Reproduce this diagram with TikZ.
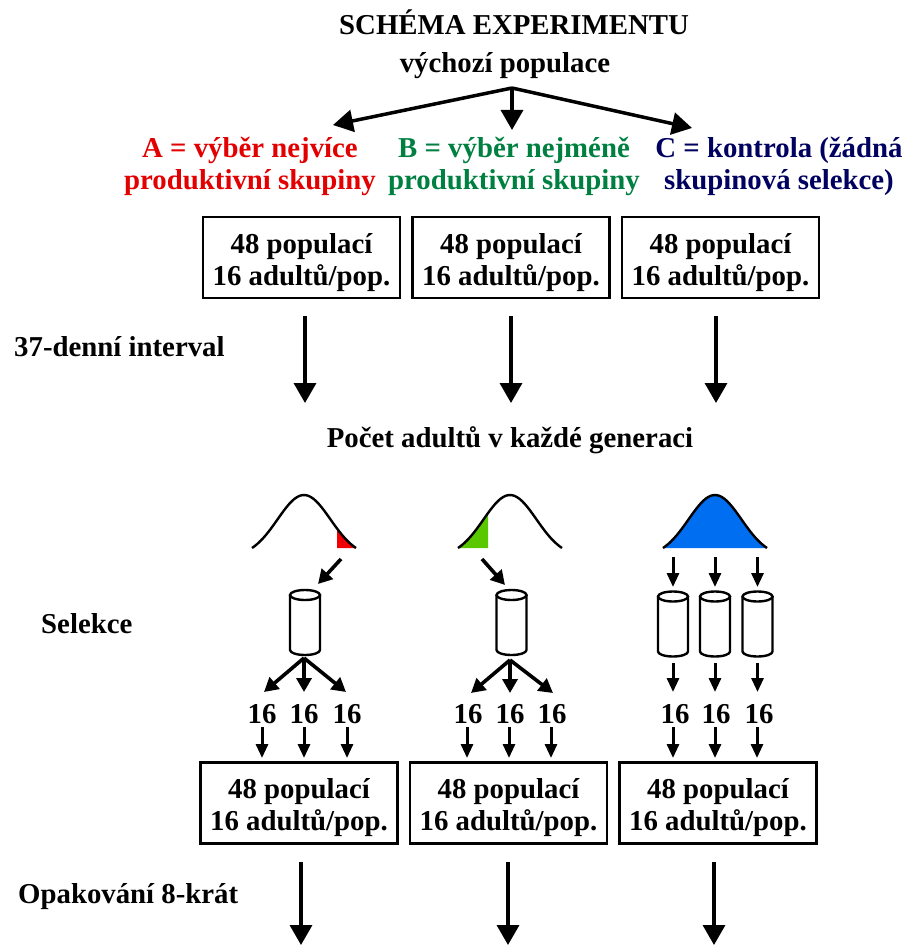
\documentclass[tikz,border=0pt]{standalone}
\usepackage{fontspec}
\setmainfont{Liberation Serif}
\usetikzlibrary{arrows.meta}
\definecolor{selred}{RGB}{226,0,0}
\definecolor{selgreen}{RGB}{0,128,64}
\definecolor{selnavy}{RGB}{0,0,96}
\definecolor{fillred}{RGB}{240,0,0}
\definecolor{fillgreen}{RGB}{90,200,0}
\definecolor{fillblue}{RGB}{0,110,240}
\tikzset{
  txt/.style={font=\fontsize{28.8}{32}\selectfont\bfseries,align=center,inner sep=0pt},
  popbox/.style={txt,draw,line width=2.5pt,minimum width=197pt,minimum height=81pt},
  bigarrow/.style={-{Triangle[length=20pt,width=22pt]},line width=3.5pt},
  midarrow/.style={-{Triangle[length=14pt,width=15pt]},line width=3.6pt},
  smallarrow/.style={-{Triangle[length=14pt,width=12pt]},line width=3pt},
  jar/.pic={
    \draw[line width=2.4pt] (-15,-27.5) -- (-15,27.5)
      arc[start angle=180,end angle=0,x radius=15,y radius=5] -- (15,-27.5);
    \draw[line width=2.4pt] (0,-27.5) ellipse[x radius=15,y radius=5];
  },
  bell/.style={line width=2.4pt},
}
\newcommand{\poptext}{\rule{0pt}{30pt}48 populací\\16 adultů/pop.}
% bell curve around #1, between offsets #2 and #3
\newcommand{\bellplot}[3]{plot[domain=#2:#3,samples=40] ({#1+\x},{548-62*(exp(-(\x*\x)/1400)-0.145)})}
\begin{document}
\begin{tikzpicture}[x=1pt,y=-1pt]
\useasboundingbox (0,0) rectangle (905,947);
%draw head
\node[txt] (title) at (514,22) {SCHÉMA EXPERIMENTU};
\node[txt] (start) at (505,66) {výchozí populace};
\coordinate (fork) at (512,88);
\coordinate (forka) at (333,125);
\coordinate (forkb) at (512,130);
\coordinate (forkc) at (692,128);
\draw[bigarrow] (fork) -- (forka);
\draw[bigarrow] (fork) -- (forkb);
\draw[bigarrow] (fork) -- (forkc);
\node[txt,text=selred] (labela) at (250,166.5) {A = výběr nejvíce\\produktivní skupiny};
\node[txt,text=selgreen] (labelb) at (514,166.5) {B = výběr nejméně\\produktivní skupiny};
\node[txt,text=selnavy] (labelc) at (779,166.5) {C = kontrola (žádná\\skupinová selekce)};
%draw upper boxes
\node[popbox] (boxa) at (301.5,257.5) {\poptext};
\node[popbox] (boxb) at (511,257.5) {\poptext};
\node[popbox] (boxc) at (720.5,257.5) {\poptext};
%draw long arrows
\foreach \name/\xpos in {a/305,b/511,c/716}{
  \coordinate (up\name) at (\xpos,316);
  \coordinate (dn\name) at (\xpos,403);
  \draw[bigarrow] (up\name) -- (dn\name);
}
\node[txt,anchor=west] (interval) at (14,347) {37-denní interval};
\node[txt] (count) at (510,440) {Počet adultů v každé generaci};
%draw bell curves
\fill[fillred] \bellplot{304}{33}{52} -- (337,548) -- cycle;
\fill[fillgreen] \bellplot{510}{-22}{-52} -- (488,548) -- cycle;
\fill[fillblue] \bellplot{715}{-52}{52} -- cycle;
\draw[bell] \bellplot{304}{-52}{52};
\draw[bell] \bellplot{510}{-52}{52};
\draw[bell] \bellplot{715}{-52}{52};
%draw selection arrows
\coordinate (taila) at (341,559);
\coordinate (heada) at (318,584);
\coordinate (tailb) at (482,559);
\coordinate (headb) at (505,585);
\draw[midarrow] (taila) -- (heada);
\draw[midarrow] (tailb) -- (headb);
%draw jars
\pic (jara) at (305,622.5) {jar};
\pic (jarb) at (511.5,622.5) {jar};
\foreach \name/\xpos in {p/673,q/715,r/757.5}{
  \pic (jar\name) at (\xpos,624) {jar};
  \coordinate (in\name) at (\xpos,557);
  \coordinate (on\name) at (\xpos,587);
  \coordinate (out\name) at (\xpos,663);
  \coordinate (to\name) at (\xpos,692);
  \draw[smallarrow] (in\name) -- (on\name);
  \draw[smallarrow] (out\name) -- (to\name);
}
%draw forks
\coordinate (splita) at (304,658);
\coordinate (splitb) at (510,660);
\foreach \name/\xpos in {1/264,2/304,3/346}{
  \coordinate (tipa\name) at (\xpos,692);
  \draw[midarrow] (splita) -- (tipa\name);
}
\foreach \name/\xpos in {1/471,2/510,3/553}{
  \coordinate (tipb\name) at (\xpos,693);
  \draw[midarrow] (splitb) -- (tipb\name);
}
%draw counts and the arrows under them
\foreach \name/\xpos/\xtop in {a/262/262,b/304/304,c/347/347,d/467/468,e/509/510,f/551/552,g/673/675,h/715/716,i/757/759}{
  \node[txt] (num\name) at (\xtop,714) {16};
  \coordinate (from\name) at (\xpos,727);
  \coordinate (into\name) at (\xpos,758);
  \draw[smallarrow] (from\name) -- (into\name);
}
\node[txt,anchor=west] (selection) at (41,624) {Selekce};
%draw lower boxes
\node[popbox] (lowa) at (299,803) {\poptext};
\node[popbox] (lowb) at (508.5,803) {\poptext};
\node[popbox] (lowc) at (718,803) {\poptext};
%draw last arrows
\foreach \name/\xpos in {a/301,b/508,c/714}{
  \coordinate (end\name) at (\xpos,862);
  \coordinate (last\name) at (\xpos,945);
  \draw[bigarrow] (end\name) -- (last\name);
}
\node[txt,anchor=west] (repeat) at (18,897) {Opakování 8-krát};
\end{tikzpicture}
\end{document}
